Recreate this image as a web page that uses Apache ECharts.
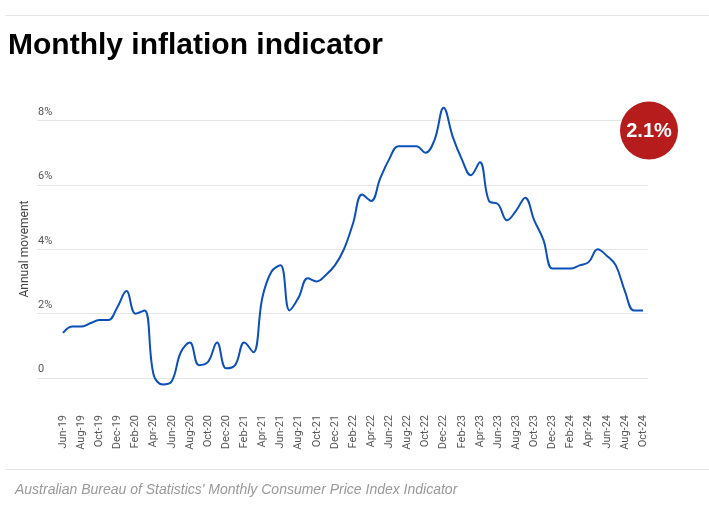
<!DOCTYPE html>
<html><head><meta charset="utf-8">
<script src="https://cdn.jsdelivr.net/npm/echarts@6/dist/echarts.min.js"></script>
<style>html,body{margin:0;padding:0;background:#fff}#c{width:709px;height:526px}</style>
</head><body><div id="c"></div>
<script>
const months = ['Jun-19','Jul-19','Aug-19','Sep-19','Oct-19','Nov-19','Dec-19',
'Jan-20','Feb-20','Mar-20','Apr-20','May-20','Jun-20','Jul-20','Aug-20','Sep-20','Oct-20','Nov-20','Dec-20',
'Jan-21','Feb-21','Mar-21','Apr-21','May-21','Jun-21','Jul-21','Aug-21','Sep-21','Oct-21','Nov-21','Dec-21',
'Jan-22','Feb-22','Mar-22','Apr-22','May-22','Jun-22','Jul-22','Aug-22','Sep-22','Oct-22','Nov-22','Dec-22',
'Jan-23','Feb-23','Mar-23','Apr-23','May-23','Jun-23','Jul-23','Aug-23','Sep-23','Oct-23','Nov-23','Dec-23',
'Jan-24','Feb-24','Mar-24','Apr-24','May-24','Jun-24','Jul-24','Aug-24','Sep-24','Oct-24'];
const annualMovement = [1.4,1.6,1.6,1.7,1.8,1.8,2.2,
2.7,2.0,2.1,0.1,-0.2,-0.1,0.8,1.1,0.4,0.5,1.1,0.3,
0.4,1.1,0.8,2.5,3.3,3.5,2.1,2.5,3.1,3.0,3.2,3.5,
4.0,4.8,5.7,5.5,6.2,6.8,7.2,7.2,7.2,7.0,7.4,8.4,
7.5,6.8,6.3,6.7,5.5,5.4,4.9,5.2,5.6,4.9,4.3,3.4,
3.4,3.4,3.5,3.6,4.0,3.8,3.5,2.7,2.1,2.1];
const yTicks = [0,2,4,6,8];
const yAxisName = 'Annual movement';
const latest = annualMovement[annualMovement.length-1];

const chart = echarts.init(document.getElementById('c'), null, {renderer:'canvas'});
const gridTop = 120.5, gridBottom = 526-378;
chart.setOption({
  animation:false,
  title:{text:'Monthly inflation indicator', left:3, top:26,
    textStyle:{fontFamily:'"Liberation Sans",Arial,sans-serif', fontWeight:'bold', fontSize:30, color:'#000'}},
  grid:[
    {left:37, right:61, top:gridTop, bottom:gridBottom},
    {left:63, right:66, top:gridTop, bottom:gridBottom}
  ],
  xAxis:[
    {gridIndex:0, type:'value', show:false, min:0, max:1},
    {gridIndex:1, type:'category', data:months, boundaryGap:false,
     axisLine:{show:false}, axisTick:{show:false},
     axisLabel:{rotate:90, interval:1, margin:37, fontFamily:'Roboto', fontSize:11, color:'#555'}}
  ],
  yAxis:[
    {gridIndex:0, type:'value', min:0, max:8, interval:2,
     axisLine:{show:false}, axisTick:{show:false},
     splitLine:{lineStyle:{color:'#e6e6e6', width:1}},
     axisLabel:{inside:true, margin:1, verticalAlign:'bottom', padding:[0,0,3,0],
       fontFamily:'Roboto', fontSize:11, color:'#555',
       formatter:v=> yTicks.includes(v) ? (v===0?'0':v+'%') : ''}},
    {gridIndex:1, type:'value', min:0, max:8, interval:2, show:false}
  ],
  series:[{
    type:'line', xAxisIndex:1, yAxisIndex:1, data:annualMovement,
    smooth:0.4, showSymbol:false, clip:false,
    lineStyle:{color:'#0b50b8', width:2}
  }],
  graphic:[
    {type:'line', shape:{x1:5,y1:15.5,x2:709,y2:15.5}, style:{stroke:'#e6e6e6', lineWidth:1}},
    {type:'line', shape:{x1:5,y1:469.5,x2:709,y2:469.5}, style:{stroke:'#e6e6e6', lineWidth:1}},
    {type:'text', x:25, y:249, rotation:Math.PI/2, style:{text:yAxisName, font:'12px Roboto', fill:'#444', align:'center', verticalAlign:'middle'}},
    {type:'text', left:15, top:483, style:{text:"Australian Bureau of Statistics' Monthly Consumer Price Index Indicator",
      font:'italic 14px "Liberation Sans",Arial,sans-serif', fill:'#999'}},
    {type:'circle', z:100, shape:{cx:649, cy:130.5, r:29}, style:{fill:'#b71c1c'}},
    {type:'text', z:101, x:649, y:131, style:{text:latest.toFixed(1)+'%', font:'bold 20px "Liberation Sans",Arial,sans-serif', fill:'#fff', align:'center', verticalAlign:'middle'}}
  ]
});
</script></body></html>
